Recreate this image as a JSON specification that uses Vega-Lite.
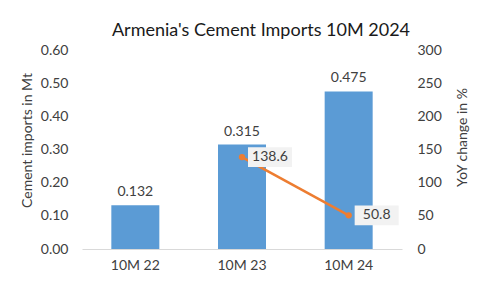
{
  "$schema": "https://vega.github.io/schema/vega-lite/v6.json",
  "width": 320,
  "height": 199,
  "autosize": {"type": "none"},
  "padding": {"left": 82, "top": 50, "right": 78, "bottom": 39},
  "background": "white",
  "config": {"view": {"stroke": null}, "font": "Lato"},
  "title": {"text": "Armenia's Cement  Imports 10M 2024", "font": "Lato", "fontSize": 18, "fontWeight": "normal", "color": "#1a1a1a", "anchor": "middle", "dx": 19, "dy": 28, "baseline": "alphabetic", "offset": 17},
  "data": {"values": [
    {"period": "10M 22", "imports": 0.132, "yoy": null},
    {"period": "10M 23", "imports": 0.315, "yoy": 138.6},
    {"period": "10M 24", "imports": 0.475, "yoy": 50.8}
  ]},
  "encoding": {
    "x": {"field": "period", "type": "nominal", "sort": null,
      "scale": {"paddingInner": 0.55, "paddingOuter": 0.275},
      "axis": {"title": null, "labelAngle": 0, "labelFont": "Lato", "labelFontSize": 14, "labelColor": "#404040", "ticks": false, "labelPadding": 9, "domainColor": "#d9d9d9", "domainWidth": 1}}
  },
  "layer": [
    {
      "encoding": {
        "y": {"field": "imports", "type": "quantitative", "scale": {"domain": [0, 0.6]},
          "axis": {"orient": "left", "values": [0, 0.1, 0.2, 0.3, 0.4, 0.5, 0.6], "format": ".2f", "grid": false, "domain": false, "ticks": false, "labelPadding": 14, "labelFont": "Lato", "labelFontSize": 14, "labelColor": "#404040",
            "title": "Cement imports in Mt", "titleFont": "Lato", "titleFontSize": 14, "titleFontWeight": "normal", "titleColor": "#404040", "titleAngle": 270, "titleX": -55, "titleY": 90, "titleAlign": "center", "titleBaseline": "middle"}}
      },
      "layer": [
        {"mark": {"type": "bar", "color": "#5B9BD5"}},
        {"mark": {"type": "text", "font": "Lato", "fontSize": 14, "color": "#404040", "baseline": "bottom", "dy": -6},
          "encoding": {"text": {"field": "imports", "type": "quantitative", "format": ".3f"}}}
      ]
    },
    {
      "transform": [{"filter": "datum.yoy != null"}],
      "encoding": {
        "y": {"field": "yoy", "type": "quantitative", "scale": {"domain": [0, 300]},
          "axis": {"orient": "right", "values": [0, 50, 100, 150, 200, 250, 300], "grid": false, "domain": false, "ticks": false, "labelPadding": 15, "labelFont": "Lato", "labelFontSize": 14, "labelColor": "#404040",
            "title": "YoY change in %", "titleFont": "Lato", "titleFontSize": 14, "titleFontWeight": "normal", "titleColor": "#404040", "titleAngle": 270, "titleX": 60, "titleY": 87, "titleAlign": "center", "titleBaseline": "middle"}}
      },
      "layer": [
        {"mark": {"type": "line", "color": "#ED7D31", "strokeWidth": 2.5}},
        {"mark": {"type": "point", "shape": "circle", "filled": true, "opacity": 1, "color": "#ED7D31", "size": 40}},
        {"mark": {"type": "point", "shape": "M-1,-0.45H1V0.45H-1Z", "filled": true, "opacity": 1, "color": "#f2f2f2", "size": 1936, "xOffset": 28}},
        {"mark": {"type": "text", "font": "Lato", "fontSize": 14, "color": "#404040", "align": "center", "baseline": "middle", "xOffset": 28},
          "encoding": {"text": {"field": "yoy", "type": "quantitative", "format": ".1f"}}}
      ]
    }
  ],
  "resolve": {"scale": {"y": "independent"}}
}
